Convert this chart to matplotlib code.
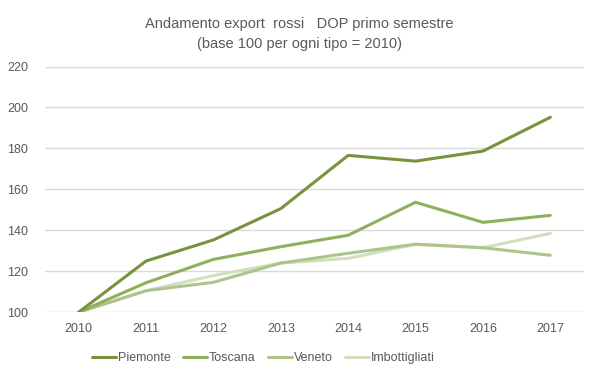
import numpy as np
import matplotlib
matplotlib.use("Agg")
import matplotlib.pyplot as plt

plt.rcParams['font.family'] = ['Liberation Sans', 'DejaVu Sans']

years = ['2010', '2011', '2012', '2013', '2014', '2015', '2016', '2017']
piemonte = [100, 125, 135.3, 150.6, 176.6, 173.8, 178.7, 195.2]
toscana = [100, 114.4, 125.8, 132, 137.6, 153.7, 143.9, 147.3]
veneto = [100, 110.5, 114.6, 124, 128.8, 133.2, 131.5, 127.8]
imbottigliati = [100, 110.5, 117.9, 124, 126.3, 133.2, 131.5, 138.5]

series = [('Piemonte', piemonte, '#77933C'),
          ('Toscana', toscana, '#8FB05A'),
          ('Veneto', veneto, '#ADC58A'),
          ('Imbottigliati', imbottigliati, '#D2DFBF')]

fig = plt.figure(figsize=(5.99, 3.78), dpi=100)
ax = fig.add_axes([0.075, 0.174, 0.9, 0.65])

x = np.arange(len(years))
# draw light lines first so darker ones sit on top
for name, vals, col in series[::-1]:
    ax.plot(x, vals, color=col, lw=2.2, label=name, solid_capstyle='round')

ax.set_xlim(-0.5, len(years) - 0.5)
ax.set_ylim(100, 220)
ax.set_yticks(np.arange(100, 221, 20))
ax.set_xticks(x)
ax.set_xticklabels(years)
ax.yaxis.grid(True, color='#D9D9D9', lw=1)
ax.set_axisbelow(True)
for s in ax.spines.values():
    s.set_visible(False)
ax.tick_params(length=0, labelsize=9, colors='#595959', pad=8)
ax.tick_params(axis='y', pad=12)

fig.text(0.5, 0.91, 'Andamento export  rossi   DOP primo semestre\n(base 100 per ogni tipo = 2010)',
         ha='center', va='center', fontsize=10.5, color='#595959', linespacing=1.5)

handles, labels = ax.get_legend_handles_labels()
leg = fig.legend(handles[::-1], labels[::-1], loc='center', bbox_to_anchor=(0.44, 0.053), ncol=4,
                 frameon=False, fontsize=9, handlelength=1.9, handletextpad=0.15,
                 columnspacing=1.0, labelcolor='#595959')

fig.savefig('out.png', dpi=100)
